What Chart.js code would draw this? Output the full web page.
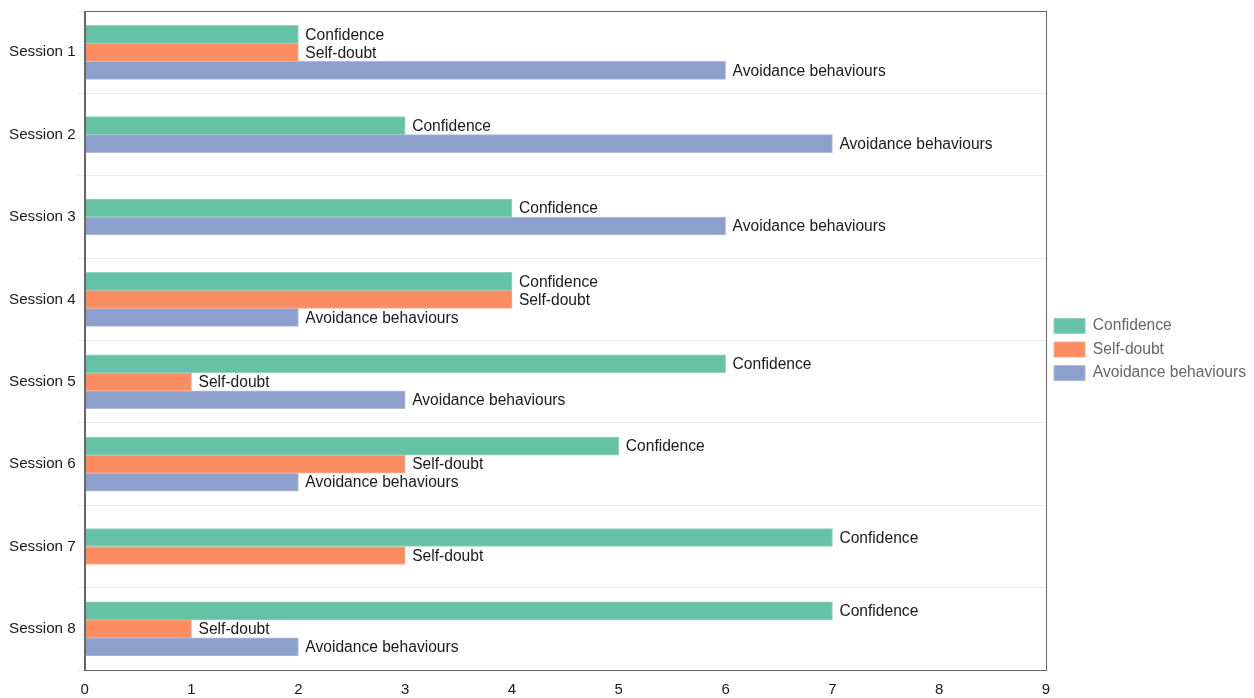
<!DOCTYPE html>
<html>
<head>
<meta charset="utf-8">
<script src="https://cdn.jsdelivr.net/npm/chart.js@4/dist/chart.umd.min.js"></script>
<style>
  html, body { margin: 0; padding: 0; background: #fff; }
  #wrap { width: 1254px; height: 698px; }
</style>
</head>
<body>
<div id="wrap"><canvas id="c" width="1254" height="698"></canvas></div>
<script>
// Session categories and measured scores per series (null = not recorded)
const sessions = ['Session 1', 'Session 2', 'Session 3', 'Session 4', 'Session 5', 'Session 6', 'Session 7', 'Session 8'];
const confidence = [2, 3, 4, 4, 6, 5, 7, 7];
const selfDoubt = [2, null, null, 4, 1, 3, 3, 1];
const avoidance = [6, 7, 6, 2, 3, 2, null, 2];
const xTicks = [0, 1, 2, 3, 4, 5, 6, 7, 8, 9];

const seriesNames = ['Confidence', 'Self-doubt', 'Avoidance behaviours'];
const seriesColors = ['#66c2a5', '#fc8d62', '#8da0cb'];
const seriesBorders = ['#8fd3bd', '#fdaa8a', '#aebbdb'];

const FONT = '"Liberation Sans", Arial, Helvetica, sans-serif';

// Writes each series name just past the end of its bar
const barLabels = {
  id: 'barLabels',
  afterDatasetsDraw(chart) {
    const ctx = chart.ctx;
    ctx.save();
    ctx.font = '15.6px ' + FONT;
    ctx.fillStyle = '#1a1a1a';
    ctx.textAlign = 'left';
    ctx.textBaseline = 'middle';
    chart.data.datasets.forEach((ds, di) => {
      const meta = chart.getDatasetMeta(di);
      meta.data.forEach((bar, i) => {
        if (ds.data[i] === null || ds.data[i] === undefined) return;
        ctx.fillText(ds.label, bar.x + 7, bar.y + 1);
      });
    });
    ctx.restore();
  }
};

// Frames the plotting area on all four sides
const plotFrame = {
  id: 'plotFrame',
  afterDraw(chart) {
    const a = chart.chartArea;
    const ctx = chart.ctx;
    ctx.save();
    ctx.strokeStyle = '#666';
    ctx.lineWidth = 1;
    ctx.strokeRect(Math.round(a.left) + 0.5, Math.round(a.top) + 0.5,
                   Math.round(a.right - a.left), Math.round(a.bottom - a.top));
    ctx.restore();
  }
};

// Lifts the legend block slightly above the canvas midline
const legendLift = {
  id: 'legendLift',
  afterLayout(chart) {
    if (chart.legend) {
      chart.legend.top -= 2.5;
      chart.legend.bottom -= 2.5;
    }
  }
};

const datasets = [confidence, selfDoubt, avoidance].map((values, k) => ({
  label: seriesNames[k],
  data: values,
  backgroundColor: seriesColors[k],
  borderColor: seriesBorders[k],
  borderWidth: 1,
  barThickness: 18,
  skipNull: true
}));

new Chart(document.getElementById('c'), {
  type: 'bar',
  data: { labels: sessions, datasets: datasets },
  options: {
    indexAxis: 'y',
    responsive: false,
    animation: false,
    layout: { padding: { top: 6, right: -2, bottom: 0, left: 7 } },
    plugins: {
      legend: {
        position: 'right',
        align: 'center',
        labels: {
          boxWidth: 31,
          boxHeight: 15,
          padding: 8,
          color: '#666',
          font: { family: FONT, size: 15.6 }
        }
      },
      tooltip: { enabled: false }
    },
    scales: {
      x: {
        min: 0,
        max: 9,
        afterBuildTicks(axis) { axis.ticks = xTicks.map(v => ({ value: v })); },
        afterFit(axis) { axis.height = 28; },
        grid: { display: false, drawTicks: false },
        border: { display: true, color: '#666' },
        ticks: { color: '#1a1a1a', padding: 11, font: { family: FONT, size: 15 } }
      },
      y: {
        grid: { display: true, color: '#ececec', offset: true, tickLength: 7 },
        border: { display: true, color: '#666' },
        ticks: { color: '#1a1a1a', padding: 2, font: { family: FONT, size: 15.2 } }
      }
    }
  },
  plugins: [barLabels, plotFrame, legendLift]
});
</script>
</body>
</html>
